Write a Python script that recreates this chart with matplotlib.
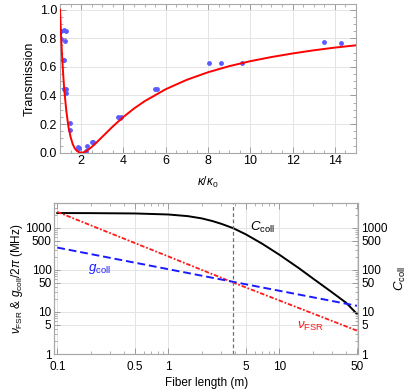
import numpy as np
import matplotlib
matplotlib.use("Agg")
import matplotlib.pyplot as plt
from matplotlib.ticker import MultipleLocator, FixedLocator, NullFormatter, LogLocator

plt.rcParams['font.family'] = ['Liberation Sans', 'DejaVu Sans']
plt.rcParams['mathtext.fontset'] = 'custom'
plt.rcParams['mathtext.rm'] = 'Liberation Sans'
plt.rcParams['mathtext.it'] = 'Liberation Sans:italic'
plt.rcParams['font.size'] = 8

# top panel: measured transmission vs kappa/kappa0
kap_pts = [1.04, 1.04, 1.17, 1.29, 1.23, 1.12, 1.17, 1.17, 1.29, 1.29, 1.48, 1.45,
           1.86, 1.88, 1.84, 2.23, 2.30, 2.58, 2.50, 3.75, 3.90, 3.82, 5.50, 5.60,
           8.05, 8.60, 9.59, 13.5, 14.3]
trans_pts = [0.85, 0.795, 0.86, 0.85, 0.78, 0.65, 0.645, 0.444, 0.444, 0.42, 0.206, 0.16,
             0.042, 0.03, 0.035, 0.014, 0.05, 0.077, 0.072, 0.252, 0.25, 0.24, 0.444, 0.444,
             0.626, 0.626, 0.626, 0.771, 0.767]

# top panel: model curve
kap_fit = [1.0, 1.05, 1.1, 1.15, 1.2, 1.3, 1.4, 1.5, 1.6, 1.7, 1.8, 1.9, 2.0, 2.1, 2.2,
           2.4, 2.6, 2.8, 3.0, 3.5, 4, 4.5, 5, 6, 7, 8, 9, 10, 11, 12, 13, 14, 15]
trans_fit = [1.0, 0.82, 0.67, 0.55, 0.44, 0.29, 0.18, 0.11, 0.06, 0.03, 0.012, 0.003, 0.0,
             0.002, 0.008, 0.028, 0.053, 0.082, 0.111, 0.184, 0.25, 0.309, 0.36, 0.444,
             0.51, 0.5625, 0.605, 0.64, 0.669, 0.694, 0.716, 0.735, 0.751]

# bottom panel: fiber length dependence
L_c = [0.1, 0.2, 0.5, 1.0, 1.5, 2.0, 2.5, 3.0, 3.85, 5, 7, 10, 15, 20, 30, 40, 50]
C_coll = [2250, 2240, 2200, 2080, 1900, 1680, 1450, 1250, 980, 700, 420, 230, 110, 63, 29, 16.5, 9]
L_fsr = [0.1, 3.85, 50]
nu_fsr = [2400, 50, 3.6]
L_g = [0.1, 3.85, 50]
g_coll = [340, 52, 14]
L_mark = 3.85

frame_col = '#a8a8a8'
grid_col = '#e4e4e4'

fig = plt.figure(figsize=(4.15, 3.91), dpi=100)

ax1 = fig.add_axes([0.1446, 0.6095, 0.7133, 0.3803])
ax1.grid(True, color=grid_col, lw=0.7)
ax1.set_axisbelow(True)
ax1.plot(kap_fit, trans_fit, color='#ff0000', lw=1.4, zorder=3)
ax1.plot(kap_pts, trans_pts, 'o', color='#5b5bff', ms=3.5, mec='none', zorder=2)
ax1.set_xlim(1, 15)
ax1.set_ylim(0, 1.04)
ax1.xaxis.set_major_locator(FixedLocator([2, 4, 6, 8, 10, 12, 14]))
ax1.xaxis.set_minor_locator(MultipleLocator(0.5))
ax1.yaxis.set_major_locator(MultipleLocator(0.2))
ax1.yaxis.set_minor_locator(MultipleLocator(0.05))
ax1.yaxis.set_major_formatter(matplotlib.ticker.FormatStrFormatter('%.1f'))
ax1.set_xlabel(r'$\kappa/\kappa_0$', fontsize=8.5, labelpad=5)
ax1.set_ylabel('Transmission', fontsize=9, labelpad=3)

ax2 = fig.add_axes([0.1308, 0.0946, 0.7325, 0.3862])
ax2.set_xscale('log')
ax2.set_yscale('log')
ax2.set_xlim(0.094, 51.4)
ax2.set_ylim(1, 3900)
ax2.set_axisbelow(True)
xt = [0.1, 0.5, 1, 5, 10, 50]
yt = [1, 5, 10, 50, 100, 500, 1000]
for v in xt:
    ax2.axvline(v, color=grid_col, lw=0.7, zorder=0)
for v in yt:
    ax2.axhline(v, color=grid_col, lw=0.7, zorder=0)
ax2.plot(L_c, C_coll, color='black', lw=1.4)
ax2.plot(L_fsr, nu_fsr, color='#ff1a1a', lw=1.3, ls=(0, (2.5, 1, 1, 1)))
ax2.plot(L_g, g_coll, color='#1a1aff', lw=1.4, ls=(0, (4, 2)))
ax2.axvline(L_mark, color='#707070', lw=0.9, ls=(0, (3, 2)))
ax2.xaxis.set_major_locator(FixedLocator(xt))
ax2.xaxis.set_major_formatter(matplotlib.ticker.FixedFormatter(['0.1', '0.5', '1', '5', '10', '50']))
ax2.xaxis.set_minor_locator(LogLocator(base=10, subs=np.arange(2, 10)))
ax2.xaxis.set_minor_formatter(NullFormatter())
ax2.yaxis.set_major_locator(FixedLocator(yt))
ax2.yaxis.set_major_formatter(matplotlib.ticker.FixedFormatter([str(v) for v in yt]))
ax2.yaxis.set_minor_locator(LogLocator(base=10, subs=np.arange(2, 10)))
ax2.yaxis.set_minor_formatter(NullFormatter())
ax2.set_xlabel('Fiber length (m)', fontsize=8.5, labelpad=3)
ax2.set_ylabel(r'$\nu_{\mathrm{FSR}}$ & $g_{\mathrm{coll}}/2\pi$ (MHz)', fontsize=8.5, labelpad=0)

ax3 = ax2.twinx()
ax3.set_yscale('log')
ax3.set_ylim(1, 3900)
ax3.yaxis.set_major_locator(FixedLocator(yt))
ax3.yaxis.set_major_formatter(matplotlib.ticker.FixedFormatter([str(v) for v in yt]))
ax3.yaxis.set_minor_locator(LogLocator(base=10, subs=np.arange(2, 10)))
ax3.yaxis.set_minor_formatter(NullFormatter())
ax3.set_ylabel(r'$C_{\mathrm{coll}}$', fontsize=9.5, labelpad=4)

ax2.text(5.4, 1000, r'$C_{\mathrm{coll}}$', fontsize=9.5, color='black', ha='left', va='center')
ax2.text(0.188, 108, r'$g_{\mathrm{coll}}$', fontsize=9.5, color='#1a1aff', ha='left', va='center')
ax2.text(14.3, 4.45, r'$\nu_{\mathrm{FSR}}$', fontsize=9.5, color='#ff1a1a', ha='left', va='center')

for ax in (ax1, ax2, ax3):
    for s in ax.spines.values():
        s.set_color(frame_col)
        s.set_linewidth(0.8)
    ax.tick_params(which='both', direction='in', color='#909090', labelsize=8)
    ax.tick_params(which='major', length=4, width=0.6, pad=2)
    ax.tick_params(which='minor', length=2, width=0.5)
ax1.tick_params(which='both', top=True, right=True, labelsize=9)
ax2.tick_params(which='both', top=True, right=False, labelsize=8.5)
ax2.tick_params(axis='x', which='major', pad=5)
ax3.tick_params(which='both', right=True, labelsize=8.5)

fig.savefig('out.png', dpi=100)
